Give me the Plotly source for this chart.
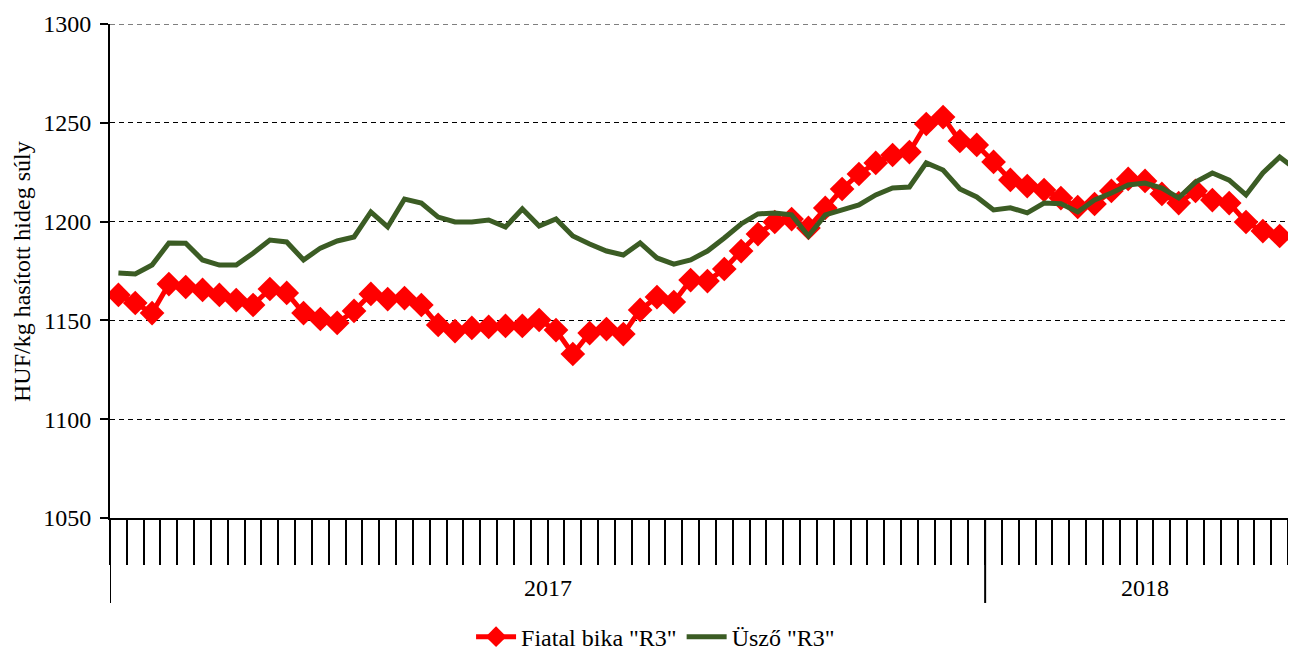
import plotly.graph_objects as go

# Weekly prices, 2017 week 1 .. 2018 week 19
years = ["2017"] * 52 + ["2018"] * 19
weeks = list(range(1, 53)) + list(range(1, 20))

fiatal_bika = [
    1162.9, 1158.8, 1153.7, 1168.4, 1166.9, 1165.4, 1162.9, 1160.3, 1157.8, 1165.9,
    1163.9, 1153.7, 1150.7, 1148.7, 1154.8, 1163.4, 1160.8, 1161.3, 1157.8, 1147.7,
    1144.6, 1146.2, 1146.7, 1147.2, 1147.2, 1150.2, 1145.1, 1133.0, 1143.6, 1145.6,
    1143.1, 1155.3, 1161.8, 1159.3, 1170.4, 1169.9, 1176.0, 1185.1, 1193.7, 1199.8,
    1201.3, 1196.8, 1206.9, 1216.5, 1224.1, 1229.7, 1233.7, 1235.2, 1249.4, 1252.9,
    1240.8, 1238.8, 1230.2, 1221.1, 1218.0, 1216.0, 1211.9, 1207.4, 1208.9, 1215.5,
    1221.6, 1220.6, 1214.0, 1209.4, 1215.5, 1210.9, 1209.4, 1199.8, 1195.2, 1192.7,
    1192.2,
]

usző = [
    1174.0, 1173.5, 1178.0, 1189.2, 1189.0, 1180.6, 1178.0, 1178.0, 1184.0, 1190.7,
    1189.7, 1180.6, 1186.6, 1190.2, 1192.2, 1204.9, 1197.3, 1211.4, 1209.4, 1202.3,
    1199.8, 1199.8, 1200.8, 1197.3, 1206.4, 1197.8, 1201.3, 1192.7, 1188.7, 1185.1,
    1183.1, 1189.2, 1181.6, 1178.5, 1180.6, 1185.1, 1191.7, 1198.8, 1203.9, 1204.4,
    1203.4, 1192.7, 1203.4, 1205.9, 1208.4, 1213.5, 1217.0, 1217.5, 1229.7, 1226.1,
    1216.5, 1212.5, 1205.9, 1207.0, 1204.4, 1209.4, 1209.0, 1204.9, 1211.0, 1214.5,
    1218.5, 1219.5, 1217.0, 1212.0, 1220.0, 1224.6, 1221.0, 1213.5, 1224.6, 1232.7,
    1226.1,
]

y_ticks = [1050, 1100, 1150, 1200, 1250, 1300]

FONT = "Liberation Serif, Times New Roman, serif"
FS = 24
RED = "#FF0000"
GREEN = "#3B5C24"
GRID = "#000000"
GRID_DASH = "5px,4px"

x = list(range(len(weeks)))

fig = go.Figure()
fig.add_trace(go.Scatter(
    x=x, y=fiatal_bika, mode="lines+markers", name='Fiatal bika "R3"',
    line=dict(color=RED, width=5),
    marker=dict(symbol="diamond", size=19, color=RED),
))
fig.add_trace(go.Scatter(
    x=x, y=usző, mode="lines", name='Üsző "R3"',
    line=dict(color=GREEN, width=5),
))

# year groups
year_names = []
for yv in years:
    if yv not in year_names:
        year_names.append(yv)
shapes = []
annotations = []
for yn in year_names:
    idx = [i for i, yv in enumerate(years) if yv == yn]
    start, end = idx[0] - 0.5, idx[-1] + 0.5
    shapes.append(dict(type="line", xref="x", yref="paper", x0=start, x1=start,
                       y0=0, y1=-0.172, line=dict(color="black", width=2)))
    annotations.append(dict(x=(start + end) / 2, y=-0.1417, xref="x", yref="paper",
                            text=yn, showarrow=False, yanchor="middle",
                            font=dict(family=FONT, size=FS, color="black")))

# top gridline
shapes.append(dict(type="line", xref="paper", yref="y", x0=0, x1=1,
                   y0=y_ticks[-1], y1=y_ticks[-1], layer="below",
                   line=dict(color=GRID, width=1, dash=GRID_DASH)))

annotations.append(dict(x=-0.0742, y=0.5, xref="paper", yref="paper",
                        text="HUF/kg hasított hideg súly", textangle=-90,
                        showarrow=False, xanchor="center", yanchor="middle",
                        font=dict(family=FONT, size=FS, color="black")))

# page body has an 8px margin: figure offset accordingly
fig.update_layout(
    width=1288, height=643,
    margin=dict(l=102, r=0, t=16, b=133, autoexpand=False),
    plot_bgcolor="white", paper_bgcolor="white",
    font=dict(family=FONT, size=FS, color="black"),
    showlegend=True,
    legend=dict(orientation="h", x=0.46, xanchor="center", y=-0.241, yanchor="middle",
                font=dict(family=FONT, size=FS, color="black"), itemwidth=40,
                tracegroupgap=0),
    shapes=shapes,
    annotations=annotations,
)
fig.update_xaxes(
    range=[-0.5, 69.97],
    tickmode="array",
    tickvals=[i - 0.5 for i in range(len(weeks) + 1)],
    showticklabels=False,
    ticks="outside", ticklen=45, tickwidth=2, tickcolor="black",
    showline=True, linecolor="black", linewidth=2,
    showgrid=False, zeroline=False, automargin=False,
)
fig.update_yaxes(
    range=[1050, 1300],
    tickmode="array", tickvals=y_ticks,
    ticks="outside", ticklen=8, tickwidth=2, tickcolor="black",
    ticklabelstandoff=4,
    showline=True, linecolor="black", linewidth=2,
    showgrid=True, gridcolor=GRID, gridwidth=1, griddash=GRID_DASH,
    zeroline=False, automargin=False,
    tickfont=dict(family=FONT, size=FS, color="black"),
)

fig.write_html("out.html")
